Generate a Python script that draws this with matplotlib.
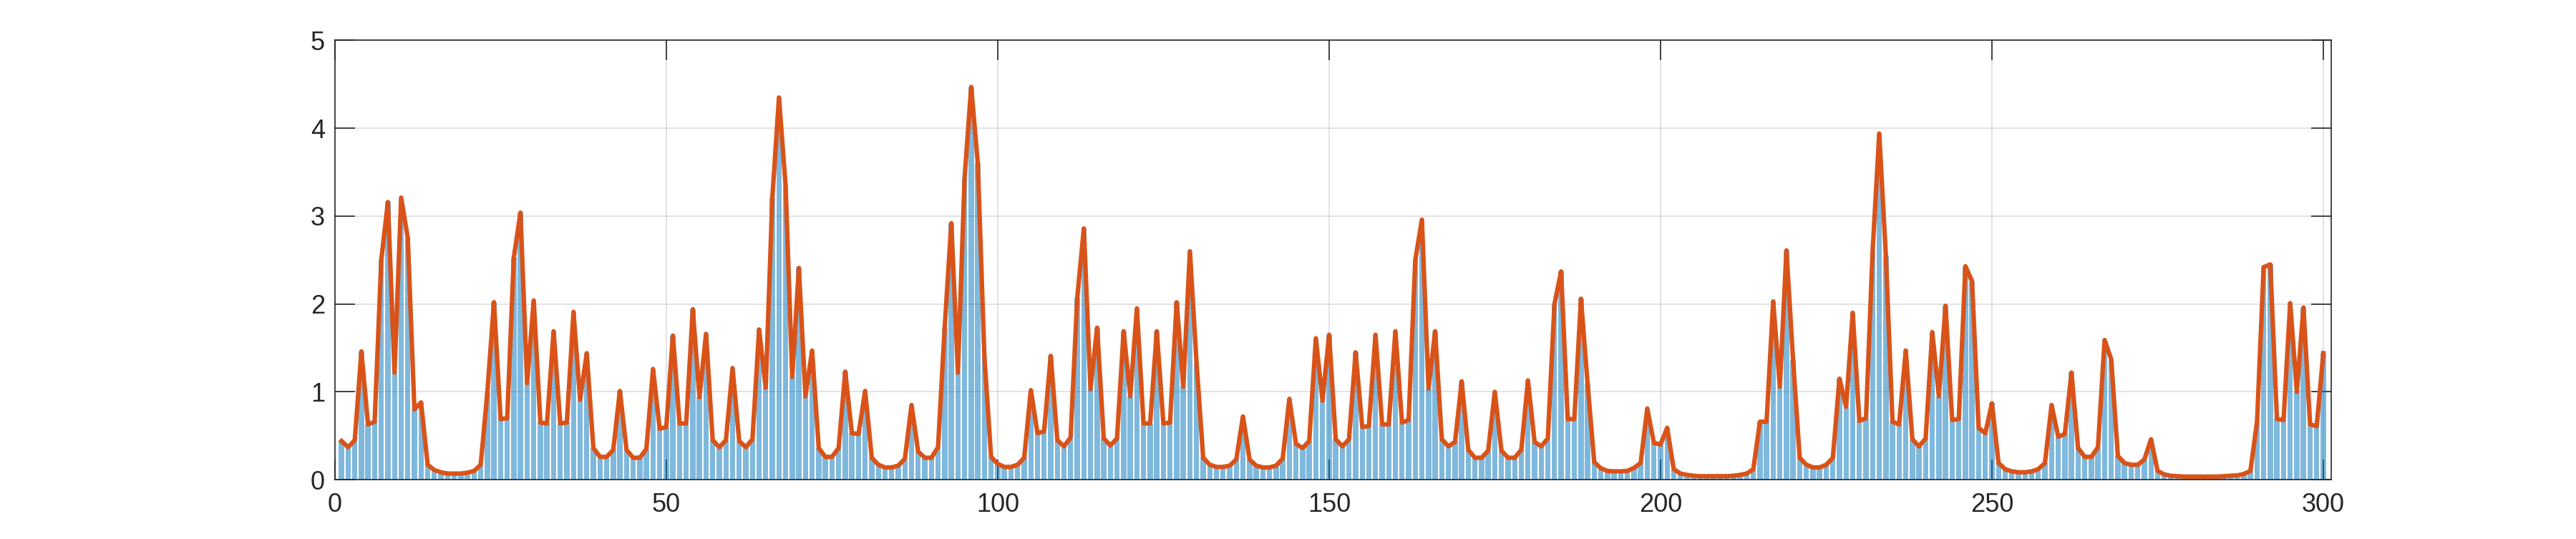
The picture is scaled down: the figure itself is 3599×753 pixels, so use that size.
import matplotlib
matplotlib.use("Agg")
import matplotlib.pyplot as plt
import numpy as np

# values, one per bar (x = 1..300)
vals_001_050 = [0.44, 0.37, 0.45, 1.46, 0.63, 0.66, 2.50, 3.16, 1.22, 3.21,
                2.75, 0.80, 0.88, 0.17, 0.11, 0.085, 0.07, 0.07, 0.07, 0.08,
                0.10, 0.17, 0.99, 2.02, 0.69, 0.70, 2.53, 3.04, 1.10, 2.04,
                0.65, 0.64, 1.69, 0.64, 0.65, 1.91, 0.91, 1.44, 0.36, 0.26,
                0.26, 0.34, 1.01, 0.34, 0.25, 0.25, 0.35, 1.26, 0.58, 0.60]
vals_051_100 = [1.64, 0.64, 0.64, 1.94, 0.94, 1.66, 0.45, 0.37, 0.45, 1.27,
                0.44, 0.37, 0.46, 1.71, 1.05, 3.21, 4.35, 3.35, 1.17, 2.41,
                0.95, 1.47, 0.36, 0.26, 0.26, 0.36, 1.23, 0.53, 0.52, 1.01,
                0.25, 0.17, 0.14, 0.14, 0.16, 0.24, 0.85, 0.32, 0.25, 0.25,
                0.37, 1.73, 2.92, 1.22, 3.43, 4.47, 3.60, 1.39, 0.26, 0.18]
vals_101_150 = [0.145, 0.145, 0.17, 0.25, 1.02, 0.53, 0.55, 1.41, 0.45, 0.38,
                0.48, 2.07, 2.86, 1.03, 1.73, 0.47, 0.39, 0.47, 1.69, 0.95,
                1.95, 0.64, 0.64, 1.69, 0.64, 0.65, 2.02, 1.06, 2.60, 1.33,
                0.25, 0.17, 0.145, 0.145, 0.16, 0.23, 0.72, 0.23, 0.16, 0.14,
                0.14, 0.16, 0.24, 0.92, 0.41, 0.36, 0.44, 1.61, 0.90, 1.65]
vals_151_200 = [0.46, 0.38, 0.46, 1.45, 0.60, 0.61, 1.65, 0.63, 0.63, 1.69,
                0.65, 0.68, 2.50, 2.96, 1.04, 1.69, 0.46, 0.38, 0.43, 1.12,
                0.34, 0.25, 0.25, 0.33, 1.00, 0.33, 0.25, 0.25, 0.34, 1.13,
                0.43, 0.38, 0.47, 2.00, 2.37, 0.69, 0.69, 2.06, 1.09, 0.20,
                0.13, 0.10, 0.095, 0.095, 0.10, 0.135, 0.19, 0.81, 0.42, 0.40]
vals_201_250 = [0.59, 0.12, 0.07, 0.055, 0.045, 0.04, 0.04, 0.04, 0.04, 0.04,
                0.045, 0.055, 0.07, 0.12, 0.66, 0.66, 2.03, 1.06, 2.61, 1.36,
                0.25, 0.17, 0.14, 0.14, 0.17, 0.25, 1.15, 0.83, 1.90, 0.67,
                0.70, 2.60, 3.94, 2.55, 0.66, 0.63, 1.47, 0.46, 0.38, 0.47,
                1.68, 0.95, 1.98, 0.68, 0.69, 2.43, 2.26, 0.59, 0.53, 0.87]
vals_251_300 = [0.19, 0.12, 0.095, 0.085, 0.085, 0.095, 0.12, 0.19, 0.85, 0.49,
                0.52, 1.22, 0.36, 0.26, 0.26, 0.37, 1.59, 1.37, 0.27, 0.19,
                0.17, 0.17, 0.23, 0.46, 0.10, 0.06, 0.045, 0.04, 0.035, 0.035,
                0.035, 0.035, 0.035, 0.035, 0.04, 0.045, 0.05, 0.065, 0.10, 0.66,
                2.42, 2.45, 0.69, 0.68, 2.01, 1.00, 1.96, 0.63, 0.61, 1.44]

y = np.array(vals_001_050 + vals_051_100 + vals_101_150 +
             vals_151_200 + vals_201_250 + vals_251_300)
x = np.arange(1, len(y) + 1)

xticks = [0, 50, 100, 150, 200, 250, 300]
yticks = [0, 1, 2, 3, 4, 5]

plt.rcParams['font.family'] = ['Liberation Sans', 'DejaVu Sans']
dark = '#262626'

fig = plt.figure(figsize=(35.99, 7.53), dpi=100)
ax = fig.add_axes([0.13, 0.11, 0.775, 0.815])

ax.bar(x, y, width=0.8, color='#0072BD', alpha=0.5, linewidth=0)
ax.plot(x, y, color='#D95319', linewidth=4.5)

ax.set_xlim(0, 301.2)
ax.set_ylim(0, 5)
ax.set_xticks(xticks)
ax.set_yticks(yticks)
ax.set_axisbelow(True)
ax.grid(True, color=dark, alpha=0.15, linewidth=1.2)

ax.tick_params(direction='in', length=20, width=1.2, color=dark,
               labelcolor=dark, labelsize=26, top=True, right=True)
ax.tick_params(axis='x', pad=13)
ax.tick_params(axis='y', pad=10)
for s in ax.spines.values():
    s.set_color(dark)
    s.set_linewidth(1.2)

fig.savefig('out.png', dpi=100)
